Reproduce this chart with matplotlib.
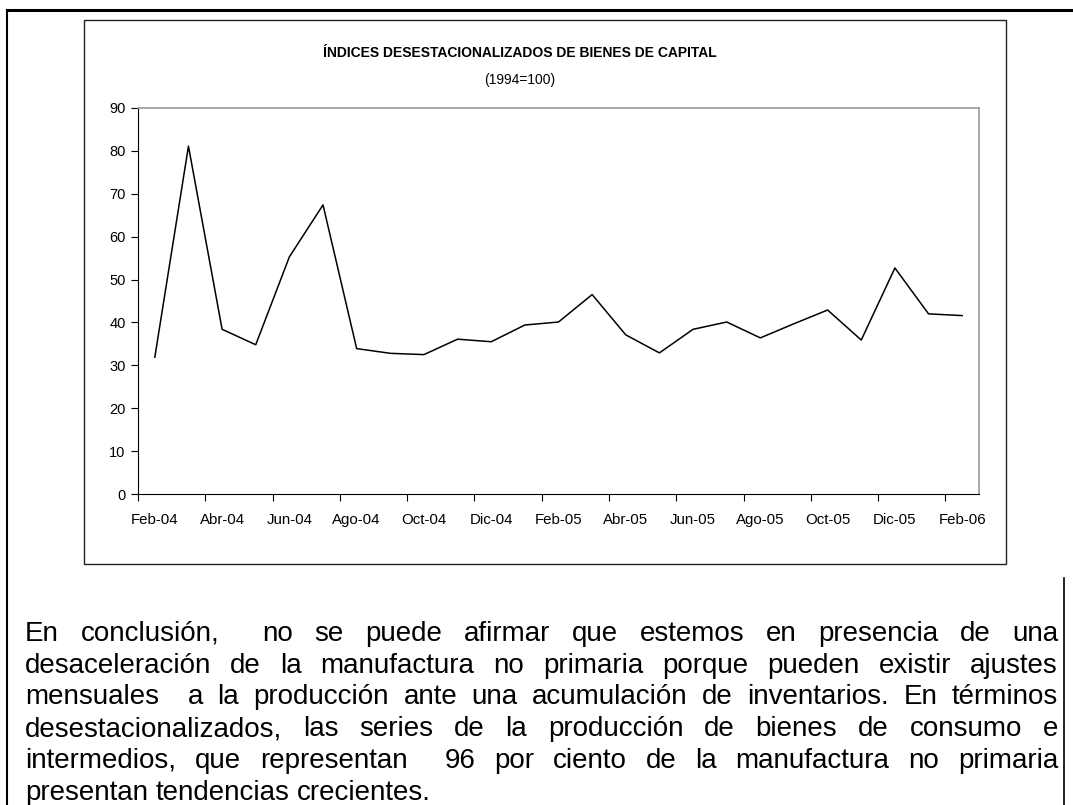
import matplotlib
matplotlib.use('Agg')
import matplotlib.pyplot as plt
from matplotlib.patches import Rectangle
from matplotlib.lines import Line2D

plt.rcParams['font.family'] = ['Liberation Sans', 'DejaVu Sans']

# datos: indice desestacionalizado de bienes de capital (1994=100)
meses = ['Feb-04', 'Mar-04', 'Abr-04', 'May-04', 'Jun-04', 'Jul-04', 'Ago-04',
         'Sep-04', 'Oct-04', 'Nov-04', 'Dic-04', 'Ene-05', 'Feb-05', 'Mar-05',
         'Abr-05', 'May-05', 'Jun-05', 'Jul-05', 'Ago-05', 'Sep-05', 'Oct-05',
         'Nov-05', 'Dic-05', 'Ene-06', 'Feb-06']
indice = [31.9, 81.1, 38.4, 34.8, 55.3, 67.4, 33.9, 32.8, 32.5, 36.1, 35.5,
          39.4, 40.1, 46.5, 37.1, 32.9, 38.4, 40.1, 36.4, 39.7, 42.9, 35.9,
          52.7, 42.0, 41.6]
etiquetas = meses[::2]
yticks = [0, 10, 20, 30, 40, 50, 60, 70, 80, 90]

titulo = 'ÍNDICES DESESTACIONALIZADOS DE BIENES DE CAPITAL'
subtitulo = '(1994=100)'

parrafo = [
    'En conclusión,  no se puede afirmar que estemos en presencia de una',
    'desaceleración de la manufactura no primaria porque pueden existir ajustes',
    'mensuales  a la producción ante una acumulación de inventarios. En términos',
    'desestacionalizados, las series de la producción de bienes de consumo e',
    'intermedios, que representan  96 por ciento de la manufactura no primaria',
    'presentan tendencias crecientes.',
]

W, H = 1073, 805
fig = plt.figure(figsize=(W / 100, H / 100), dpi=100)


def fx(x):
    return x / W


def fy(y):
    return 1 - y / H


# marco de la pagina
fig.add_artist(Line2D([fx(7), fx(1073)], [fy(10), fy(10)], color='black', lw=2.2))
fig.add_artist(Line2D([fx(7), fx(7)], [fy(10), fy(805)], color='black', lw=1.5))
fig.add_artist(Line2D([fx(1064), fx(1064)], [fy(578), fy(805)], color='black', lw=1.2))

# recuadro del grafico
fig.add_artist(Rectangle((fx(84), fy(564)), (1006 - 84) / W, (564 - 20) / H,
                         fill=False, edgecolor='#222222', lw=1.0))

ax = fig.add_axes([fx(138), fy(494), (979 - 138) / W, (494 - 108) / H])
x = list(range(len(meses)))
ax.plot(x, indice, color='black', lw=1.1)

ax.set_xlim(-0.5, len(meses) - 0.5)
ax.set_ylim(0, 90)
ax.set_yticks(yticks)
ax.set_yticklabels([str(v) for v in yticks], fontsize=10.5)

# marcas entre categorias, etiquetas centradas
ax.set_xticks([i - 0.5 for i in range(0, len(meses), 2)])
ax.set_xticklabels([])
ax.set_xticks(range(0, len(meses), 2), minor=True)
ax.set_xticklabels(etiquetas, minor=True, fontsize=10.8)
ax.tick_params(axis='x', which='major', length=5, width=0.8, direction='out')
ax.tick_params(axis='x', which='minor', length=0, pad=14)
ax.tick_params(axis='y', length=5, width=0.8, pad=4)

for s in ['left', 'bottom']:
    ax.spines[s].set_color('black')
    ax.spines[s].set_linewidth(0.8)
for s in ['top', 'right']:
    ax.spines[s].set_color('#9a9a9a')
    ax.spines[s].set_linewidth(1.2)

fig.text(fx(520), fy(53), titulo, ha='center', va='center',
         fontsize=10, fontweight='bold')
fig.text(fx(520), fy(80), subtitulo, ha='center', va='center', fontsize=10)

# parrafo justificado
renderer = fig.canvas.get_renderer()
x0, x1 = 25, 1058
y0, paso = 641, 31.7
tam = 20


def ancho(t):
    txt = fig.text(0, 0, t, fontsize=tam)
    w = txt.get_window_extent(renderer).width
    txt.remove()
    return w


esp = ancho('a a') - ancho('aa')
for n, linea in enumerate(parrafo):
    y = y0 + n * paso
    tokens = linea.split(' ')
    anchos = [ancho(t) if t else 0 for t in tokens]
    huecos = len(tokens) - 1
    if n < len(parrafo) - 1:
        gap = (x1 - x0 - sum(anchos)) / huecos
    else:
        gap = esp
    xx = x0
    for t, w in zip(tokens, anchos):
        if t:
            fig.text(fx(xx), fy(y), t, fontsize=tam, ha='left', va='baseline')
        xx += w + gap

fig.savefig('out.png', dpi=100)
